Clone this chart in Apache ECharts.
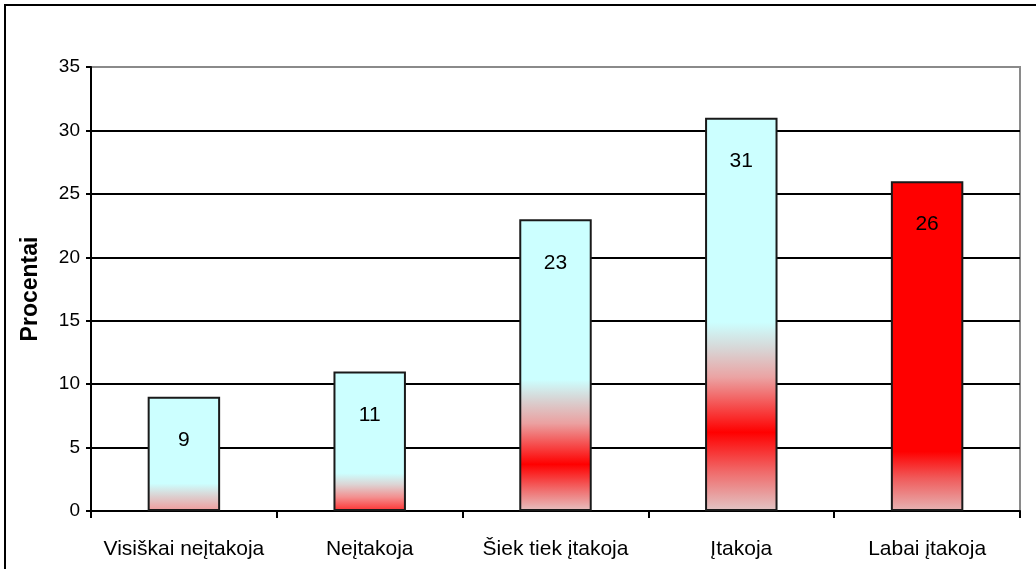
<!DOCTYPE html>
<html>
<head>
<meta charset="utf-8">
<script src="https://cdn.jsdelivr.net/npm/echarts@6/dist/echarts.min.js"></script>
<style>
  html, body { margin: 0; padding: 0; background: #fff; }
  #chart { width: 1036px; height: 569px; }
</style>
</head>
<body>
<div id="chart"></div>
<script>
// Survey answers: how much the factor influences (percent of respondents)
const categories = ['Visiškai neįtakoja', 'Neįtakoja', 'Šiek tiek įtakoja', 'Įtakoja', 'Labai įtakoja'];
const percentValues = [9, 11, 23, 31, 26];
const yTicks = { min: 0, max: 35, interval: 5 };

// Vertical fill of each bar, top (0) to bottom (1)
const CYAN = '#CCFFFF', RED = '#FF0000';
const barFills = [
  [[0, CYAN], [0.76, CYAN], [0.87, '#DCD0D0'], [1, '#F09A9A']],
  [[0, CYAN], [0.73, CYAN], [0.81, '#DCD4D4'], [0.9, '#F39090'], [1, '#FF3030']],
  [[0, CYAN], [0.55, CYAN], [0.62, '#D8D2D2'], [0.7, '#EBA0A0'], [0.84, RED], [0.93, '#F07070'], [1, '#E6C2C2']],
  [[0, CYAN], [0.52, CYAN], [0.59, '#D8D4D4'], [0.66, '#EBA3A3'], [0.8, RED], [0.9, '#F06A6A'], [1, '#E2C6C6']],
  [[0, RED], [0.82, RED], [0.9, '#F05A5A'], [1, '#E6B4B4']]
];

const chart = echarts.init(document.getElementById('chart'), null, { renderer: 'canvas' });

const FONT = '"Liberation Sans", Arial, sans-serif';

chart.setOption({
  animation: false,
  backgroundColor: '#ffffff',
  graphic: [{
    type: 'rect',
    shape: { x: 5, y: 5, width: 1100, height: 700 },
    style: { fill: 'none', stroke: '#000', lineWidth: 2 },
    silent: true
  }],
  grid: {
    left: 91, right: 16, top: 67, bottom: 58,
    show: true, borderColor: '#8a8a8a', borderWidth: 2, backgroundColor: 'transparent'
  },
  xAxis: {
    type: 'category',
    data: categories,
    axisLine: { lineStyle: { color: '#000', width: 2 } },
    axisTick: { show: true, length: 7, lineStyle: { color: '#000', width: 2 } },
    axisLabel: { interval: 0, color: '#000', fontFamily: FONT, fontSize: 21, margin: 28 }
  },
  yAxis: {
    type: 'value',
    min: yTicks.min, max: yTicks.max, interval: yTicks.interval,
    name: 'Procentai',
    nameLocation: 'middle',
    nameRotate: 90,
    nameGap: 49,
    nameTextStyle: { color: '#000', fontFamily: FONT, fontSize: 23, fontWeight: 'bold' },
    axisLine: { show: true, lineStyle: { color: '#000', width: 2 } },
    axisTick: { show: true, length: 5, lineStyle: { color: '#000', width: 2 } },
    axisLabel: { color: '#000', fontFamily: FONT, fontSize: 19, margin: 11 },
    splitLine: { show: true, showMaxLine: false, lineStyle: { color: '#000', width: 2 } }
  },
  series: [{
    type: 'bar',
    barWidth: '39%',
    data: percentValues.map((v, i) => ({
      value: v,
      itemStyle: {
        color: new echarts.graphic.LinearGradient(0, 0, 0, 1,
          barFills[i].map(([offset, color]) => ({ offset, color })))
      }
    })),
    itemStyle: { borderColor: '#1a1a1a', borderWidth: 2 },
    label: {
      show: true,
      position: 'insideTop',
      distance: 33,
      color: '#000',
      fontFamily: FONT,
      fontSize: 21
    }
  }]
});
</script>
</body>
</html>
